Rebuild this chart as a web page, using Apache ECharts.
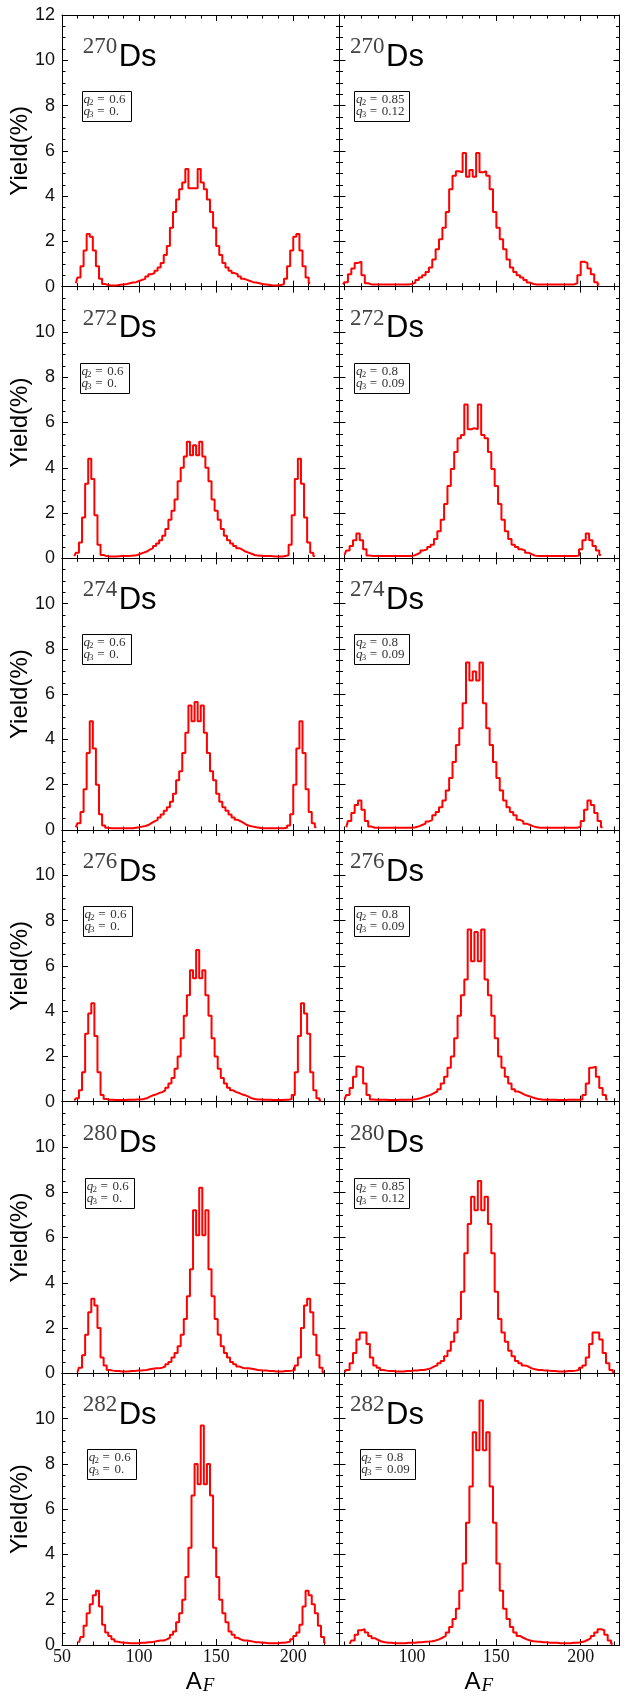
<!DOCTYPE html>
<html><head><meta charset="utf-8">
<script src="https://cdn.jsdelivr.net/npm/echarts@6/dist/echarts.min.js"></script>
<style>html,body{margin:0;padding:0;background:#fff}#c{width:626px;height:1702px}</style>
</head><body><div id="c"></div>
<script>
// ---------------- data ----------------
const nuclei = ['270', '272', '274', '276', '280', '282'];
const q2Left = ['0.6', '0.6', '0.6', '0.6', '0.6', '0.6'];
const q3Left = ['0.', '0.', '0.', '0.', '0.', '0.'];
const q2Right = ['0.85', '0.8', '0.8', '0.8', '0.85', '0.8'];
const q3Right = ['0.12', '0.09', '0.09', '0.09', '0.12', '0.09'];
const xMajorLeft = [50, 100, 150, 200];
const xMajorRight = [100, 150, 200];
const xMinor = [60, 70, 80, 90, 110, 120, 130, 140, 160, 170, 180, 190, 210, 220];
const binWidth = 2;
// first fragment mass of each histogram [left, right] per row
const firstA = [[59, 59], [58, 60], [59, 61], [58, 60], [60, 60], [61, 63]];

const yield270_q06 = [0.15,0.4,0.9,1.6,2.33,2.2,1.6,0.9,0.35,0.12,
 0.07,0.05,0.05,0.06,0.08,0.1,0.12,0.15,0.18,0.2,
 0.25,0.3,0.35,0.45,0.55,0.6,0.7,0.85,1.05,1.4,
 1.8,2.6,3.3,3.85,4.3,4.6,5.2,4.35,
 4.35,
 4.35,5.2,4.6,4.3,3.85,3.3,2.6,1.8,
 1.4,1.05,0.85,0.7,0.6,0.55,0.45,0.35,0.3,0.25,
 0.2,0.18,0.15,0.12,0.1,0.08,0.06,0.05,0.05,0.07,
 0.12,0.35,0.9,1.6,2.2,2.33,1.6,0.9,0.4,0.15];
const yield270_q085 = [0.1,0.2,0.55,0.8,1.05,1.1,0.5,0.15,0.1,0.1,
 0.1,0.1,0.1,0.1,0.1,0.1,0.1,0.1,0.1,0.1,
 0.12,0.18,0.3,0.4,0.5,0.65,0.85,1.2,1.65,2.1,
 2.6,3.3,4.3,4.9,5.1,5.05,5.9,4.85,
 5.15,
 4.85,5.9,5.05,5.1,4.9,4.3,3.3,2.6,
 2.1,1.65,1.2,0.85,0.65,0.5,0.4,0.3,0.18,0.12,
 0.1,0.1,0.1,0.1,0.1,0.1,0.1,0.1,0.1,0.1,
 0.1,0.1,0.15,0.5,1.1,1.05,0.8,0.55,0.2,0.1];
const yield272_q06 = [0.1,0.25,0.7,1.8,3.3,4.4,3.5,1.9,0.6,0.15,
 0.1,0.08,0.08,0.08,0.09,0.1,0.1,0.1,0.11,0.12,
 0.15,0.2,0.25,0.3,0.38,0.45,0.55,0.65,0.8,1.0,
 1.3,1.7,2.1,2.6,3.4,4.0,4.5,5.15,4.55,
 5.0,
 4.55,5.15,4.5,4.0,3.4,2.6,2.1,1.7,1.3,
 1.0,0.8,0.65,0.55,0.45,0.38,0.3,0.25,0.2,0.15,
 0.12,0.11,0.1,0.1,0.1,0.09,0.08,0.08,0.08,0.1,
 0.15,0.6,1.9,3.5,4.4,3.3,1.8,0.7,0.25,0.1];
const yield272_q08 = [0.15,0.35,0.55,0.8,1.1,0.8,0.4,0.12,0.1,0.1,
 0.1,0.1,0.1,0.1,0.1,0.1,0.1,0.1,0.1,0.1,
 0.12,0.18,0.25,0.35,0.4,0.5,0.6,0.85,1.2,1.7,
 2.4,3.2,3.95,4.7,5.3,5.45,6.8,5.7,
 5.75,
 5.7,6.8,5.45,5.3,4.7,3.95,3.2,2.4,
 1.7,1.2,0.85,0.6,0.5,0.4,0.35,0.25,0.18,0.12,
 0.1,0.1,0.1,0.1,0.1,0.1,0.1,0.1,0.1,0.1,
 0.1,0.1,0.12,0.4,0.8,1.1,0.8,0.55,0.35,0.15];
const yield274_q06 = [0.12,0.3,0.8,1.8,3.4,4.8,3.6,2.0,0.7,0.2,
 0.1,0.08,0.08,0.08,0.08,0.08,0.08,0.08,0.08,0.1,
 0.12,0.15,0.18,0.22,0.3,0.38,0.45,0.55,0.68,0.85,
 1.0,1.25,1.6,2.2,2.6,3.4,4.3,5.5,4.8,
 5.65,
 4.8,5.5,4.3,3.4,2.6,2.2,1.6,1.25,1.0,
 0.85,0.68,0.55,0.45,0.38,0.3,0.22,0.18,0.15,0.12,
 0.1,0.08,0.08,0.08,0.08,0.08,0.08,0.08,0.08,0.1,
 0.2,0.7,2.0,3.6,4.8,3.4,1.8,0.8,0.3,0.12];
const yield274_q08 = [0.12,0.4,0.75,1.1,1.3,0.9,0.4,0.15,0.1,0.1,
 0.1,0.1,0.1,0.1,0.1,0.1,0.1,0.1,0.1,0.1,
 0.12,0.16,0.22,0.28,0.38,0.45,0.65,0.8,1.0,1.3,
 1.75,2.3,3.0,3.75,4.5,5.6,7.4,6.6,
 7.0,
 6.6,7.4,5.6,4.5,3.75,3.0,2.3,1.75,
 1.3,1.0,0.8,0.65,0.45,0.38,0.28,0.22,0.16,0.12,
 0.1,0.1,0.1,0.1,0.1,0.1,0.1,0.1,0.1,0.1,
 0.1,0.1,0.15,0.4,0.9,1.3,1.1,0.75,0.4,0.12];
const yield276_q06 = [0.05,0.15,0.5,1.3,3.0,3.9,4.35,2.9,1.3,0.3,
 0.12,0.08,0.08,0.07,0.07,0.07,0.07,0.08,0.08,0.09,
 0.1,0.1,0.12,0.15,0.22,0.28,0.32,0.38,0.42,0.5,
 0.62,0.8,1.05,1.45,2.0,2.8,3.8,4.7,5.8,5.45,
 6.7,
 5.45,5.8,4.7,3.8,2.8,2.0,1.45,1.05,0.8,0.62,
 0.5,0.42,0.38,0.32,0.28,0.22,0.15,0.12,0.1,0.1,
 0.09,0.08,0.08,0.07,0.07,0.07,0.07,0.08,0.08,0.12,
 0.3,1.3,2.9,4.35,3.9,3.0,1.3,0.5,0.15,0.05];
const yield276_q08 = [0.1,0.3,0.6,1.1,1.55,1.5,0.8,0.3,0.1,0.08,
 0.08,0.08,0.08,0.07,0.07,0.07,0.08,0.08,0.08,0.09,
 0.1,0.12,0.15,0.2,0.25,0.3,0.38,0.45,0.55,0.8,
 1.1,1.5,2.0,2.8,3.8,4.7,5.4,7.6,6.2,
 7.5,
 6.2,7.6,5.4,4.7,3.8,2.8,2.0,1.5,1.1,
 0.8,0.55,0.45,0.38,0.3,0.25,0.2,0.15,0.12,0.1,
 0.09,0.08,0.08,0.08,0.07,0.07,0.07,0.08,0.08,0.08,
 0.08,0.1,0.3,0.8,1.5,1.55,1.1,0.6,0.3,0.1];
const yield280_q06 = [0.05,0.25,0.8,1.7,2.7,3.3,3.0,2.0,0.7,0.35,
 0.15,0.12,0.1,0.1,0.08,0.08,0.08,0.1,0.1,0.12,
 0.12,0.14,0.15,0.18,0.2,0.22,0.22,0.25,0.3,0.4,
 0.5,0.7,0.9,1.2,1.7,2.4,3.4,4.6,7.2,6.1,
 8.2,
 6.1,7.2,4.6,3.4,2.4,1.7,1.2,0.9,0.7,0.5,
 0.4,0.3,0.25,0.22,0.22,0.2,0.18,0.15,0.14,0.12,
 0.12,0.1,0.1,0.08,0.08,0.08,0.1,0.1,0.12,0.15,
 0.35,0.7,2.0,3.0,3.3,2.7,1.7,0.8,0.25,0.05];
const yield280_q085 = [0.05,0.15,0.45,0.9,1.5,1.8,1.8,1.3,0.7,0.35,
 0.25,0.15,0.12,0.1,0.1,0.08,0.08,0.08,0.1,0.1,
 0.12,0.12,0.15,0.15,0.18,0.22,0.3,0.35,0.45,0.55,
 0.75,1.0,1.4,1.8,2.4,3.6,5.3,6.6,7.8,7.2,
 8.5,
 7.2,7.8,6.6,5.3,3.6,2.4,1.8,1.4,1.0,0.75,
 0.55,0.45,0.35,0.3,0.22,0.18,0.15,0.15,0.12,0.12,
 0.1,0.1,0.08,0.08,0.08,0.1,0.1,0.12,0.15,0.25,
 0.35,0.7,1.3,1.8,1.8,1.5,0.9,0.45,0.15,0.05];
const yield282_q06 = [0.1,0.35,0.85,1.4,1.8,2.2,2.4,1.7,0.9,0.55,
 0.4,0.25,0.15,0.12,0.1,0.1,0.08,0.08,0.08,0.08,
 0.1,0.1,0.12,0.12,0.15,0.18,0.2,0.2,0.25,0.32,
 0.45,0.6,1.0,1.4,2.0,3.0,4.3,6.6,8.0,7.1,
 9.7,
 7.1,8.0,6.6,4.3,3.0,2.0,1.4,1.0,0.6,0.45,
 0.32,0.25,0.2,0.2,0.18,0.15,0.12,0.12,0.1,0.1,
 0.08,0.08,0.08,0.08,0.1,0.1,0.12,0.15,0.25,0.4,
 0.55,0.9,1.7,2.4,2.2,1.8,1.4,0.85,0.35,0.1];
const yield282_q08 = [0.05,0.2,0.45,0.65,0.7,0.55,0.4,0.3,0.22,0.15,
 0.12,0.1,0.1,0.08,0.08,0.08,0.08,0.1,0.1,0.1,
 0.12,0.12,0.14,0.15,0.17,0.2,0.25,0.32,0.4,0.55,
 0.8,1.15,1.6,2.4,3.6,5.4,7.0,9.4,8.6,
 10.8,
 8.6,9.4,7.0,5.4,3.6,2.4,1.6,1.15,0.8,
 0.55,0.4,0.32,0.25,0.2,0.17,0.15,0.14,0.12,0.12,
 0.1,0.1,0.1,0.08,0.08,0.08,0.08,0.1,0.1,0.12,
 0.15,0.22,0.3,0.4,0.55,0.7,0.65,0.45,0.2,0.05];

const panels = [
  [yield270_q06, yield270_q085],
  [yield272_q06, yield272_q08],
  [yield274_q06, yield274_q08],
  [yield276_q06, yield276_q08],
  [yield280_q06, yield280_q085],
  [yield282_q06, yield282_q08]
];

// ---------------- layout ----------------
const rowTop0 = 15, rowBottom = 1645;
const rowH = (rowBottom - rowTop0) / 6;
const cols = [
  {x: 62, w: 277.5, min: 50, max: 230, major: xMajorLeft, titleDx: 20.7},
  {x: 339.5, w: 280, min: 57, max: 223, major: xMajorRight, titleDx: 10.5}
];
const boxX = [[81.7, 354.3], [79.7, 354.3], [81.7, 354.3], [82.7, 354.3], [85, 354.3], [87, 359.5]];
const boxW = [49, 55];

const grids = [], xAxes = [], yAxes = [], series = [], graphics = [];
const black = '#000';

for (let r = 0; r < 6; r++) {
  const top = rowTop0 + r * rowH;
  graphics.push({type: 'text', x: 20.5, y: top + rowH / 2, rotation: Math.PI / 2, z: 100,
    style: {text: 'Yield(%)', font: '24px "Liberation Sans"', fill: '#000',
      align: 'center', verticalAlign: 'middle', textAlign: 'center', textVerticalAlign: 'middle'}});
  for (let c = 0; c < 2; c++) {
    const col = cols[c];
    const g = grids.length;
    grids.push({left: col.x, top: top, width: col.w, height: rowH, containLabel: false, outerBoundsMode: 'none'});
    const isBottom = (r === 5);
    const baseX = {gridIndex: g, type: 'value', min: col.min, max: col.max,
      splitLine: {show: false}, minorTick: {show: false}, minorSplitLine: {show: false}};
    const axLine = {show: true, onZero: false, lineStyle: {color: black, width: 1}};
    const noLine = {show: false, onZero: false};
    xAxes.push(Object.assign({}, baseX, {position: 'bottom', axisLine: axLine,
      axisTick: {show: true, inside: true, length: 6, customValues: col.major, lineStyle: {color: black, width: 1}},
      axisLabel: {show: isBottom, customValues: col.major, margin: 3, fontFamily: 'Liberation Serif', fontSize: 18, color: '#111'}}));
    xAxes.push(Object.assign({}, baseX, {position: 'bottom', axisLine: noLine,
      axisTick: {show: true, inside: true, length: 3.5, customValues: xMinor, lineStyle: {color: black, width: 1}},
      axisLabel: {show: false}}));
    xAxes.push(Object.assign({}, baseX, {position: 'top', axisLine: axLine,
      axisTick: {show: true, inside: true, length: 6, customValues: col.major, lineStyle: {color: black, width: 1}},
      axisLabel: {show: false}}));
    xAxes.push(Object.assign({}, baseX, {position: 'top', axisLine: noLine,
      axisTick: {show: true, inside: true, length: 3.5, customValues: xMinor, lineStyle: {color: black, width: 1}},
      axisLabel: {show: false}}));
    const baseY = {gridIndex: g, type: 'value', min: 0, max: 12, interval: 2,
      splitLine: {show: false}, minorSplitLine: {show: false},
      axisLine: axLine,
      axisTick: {show: true, inside: true, length: 6, lineStyle: {color: black, width: 1}},
      minorTick: {show: true, splitNumber: 4, length: 3.5, lineStyle: {color: black, width: 1}}};
    const rr = r;
    yAxes.push(Object.assign({}, baseY, {position: 'left',
      axisLabel: {show: c === 0, margin: 7, fontFamily: 'Liberation Sans', fontSize: 18, color: '#111',
        formatter: function (v) { return (rr > 0 && v === 12) ? '' : String(v); }}}));
    yAxes.push(Object.assign({}, baseY, {position: 'right', axisLabel: {show: false}}));

    const vals = panels[r][c];
    const a0 = firstA[r][c];
    series.push({type: 'line', xAxisIndex: 4 * g, yAxisIndex: 2 * g, step: 'middle', symbol: 'none',
      silent: true, clip: true, animation: false,
      lineStyle: {color: '#ff0000', width: 2}, itemStyle: {color: '#ff0000'},
      data: vals.map(function (v, i) { return [a0 + binWidth * i, v]; })});

    // title
    const tx = col.x + col.titleDx;
    graphics.push({type: 'text', x: tx, y: top + 32, z: 100,
      style: {text: nuclei[r], font: '23px "Liberation Serif"', fill: '#444', align: 'left', verticalAlign: 'middle', textAlign: 'left', textVerticalAlign: 'middle'}});
    graphics.push({type: 'text', x: tx + 36, y: top + 42, z: 100,
      style: {text: 'Ds', font: '31px "Liberation Sans"', fill: '#000', align: 'left', verticalAlign: 'middle', textAlign: 'left', textVerticalAlign: 'middle'}});
    // parameter box
    const bx = boxX[r][c], by = top + 76;
    graphics.push({type: 'rect', z: 100, shape: {x: Math.round(bx) + 0.5, y: Math.round(by) + 0.5, width: boxW[c], height: 30},
      style: {fill: '#fff', stroke: '#000', lineWidth: 1}});
    const lines = [['2', c === 0 ? q2Left[r] : q2Right[r]], ['3', c === 0 ? q3Left[r] : q3Right[r]]];
    lines.forEach(function (ln, k) {
      const ly = by + 8.5 + 12 * k;
      const st = function (t, f, extra) {
        return Object.assign({text: t, font: f, fill: '#333', align: 'left', verticalAlign: 'middle', textAlign: 'left', textVerticalAlign: 'middle'}, extra || {});
      };
      graphics.push({type: 'text', z: 101, x: bx + 1.7, y: ly, style: st('q', 'italic 13px "Liberation Serif"')});
      graphics.push({type: 'text', z: 101, x: bx + 7.4, y: ly + 3, style: st(ln[0], '9px "Liberation Serif"')});
      graphics.push({type: 'text', z: 101, x: bx + 15.5, y: ly, style: st('=', '13px "Liberation Serif"')});
      graphics.push({type: 'text', z: 101, x: bx + 27.5, y: ly, style: st(ln[1], '13px "Liberation Serif"')});
    });
  }
}
// x axis titles
cols.forEach(function (col) {
  const cx = col.x + col.w / 2;
  graphics.push({type: 'text', x: cx + 1, y: 1682.5, z: 100,
    style: {text: 'A', font: '24px "Liberation Sans"', fill: '#000', align: 'right', verticalAlign: 'middle', textAlign: 'right', textVerticalAlign: 'middle'}});
  graphics.push({type: 'text', x: cx + 2, y: 1686, z: 100,
    style: {text: 'F', font: 'italic 19px "Liberation Serif"', fill: '#000', align: 'left', verticalAlign: 'middle', textAlign: 'left', textVerticalAlign: 'middle'}});
});

const chart = echarts.init(document.getElementById('c'), null, {renderer: 'canvas', width: 626, height: 1702});
chart.setOption({
  animation: false,
  backgroundColor: '#fff',
  grid: grids,
  xAxis: xAxes,
  yAxis: yAxes,
  series: series,
  graphic: {elements: graphics}
});
</script>
</body></html>
